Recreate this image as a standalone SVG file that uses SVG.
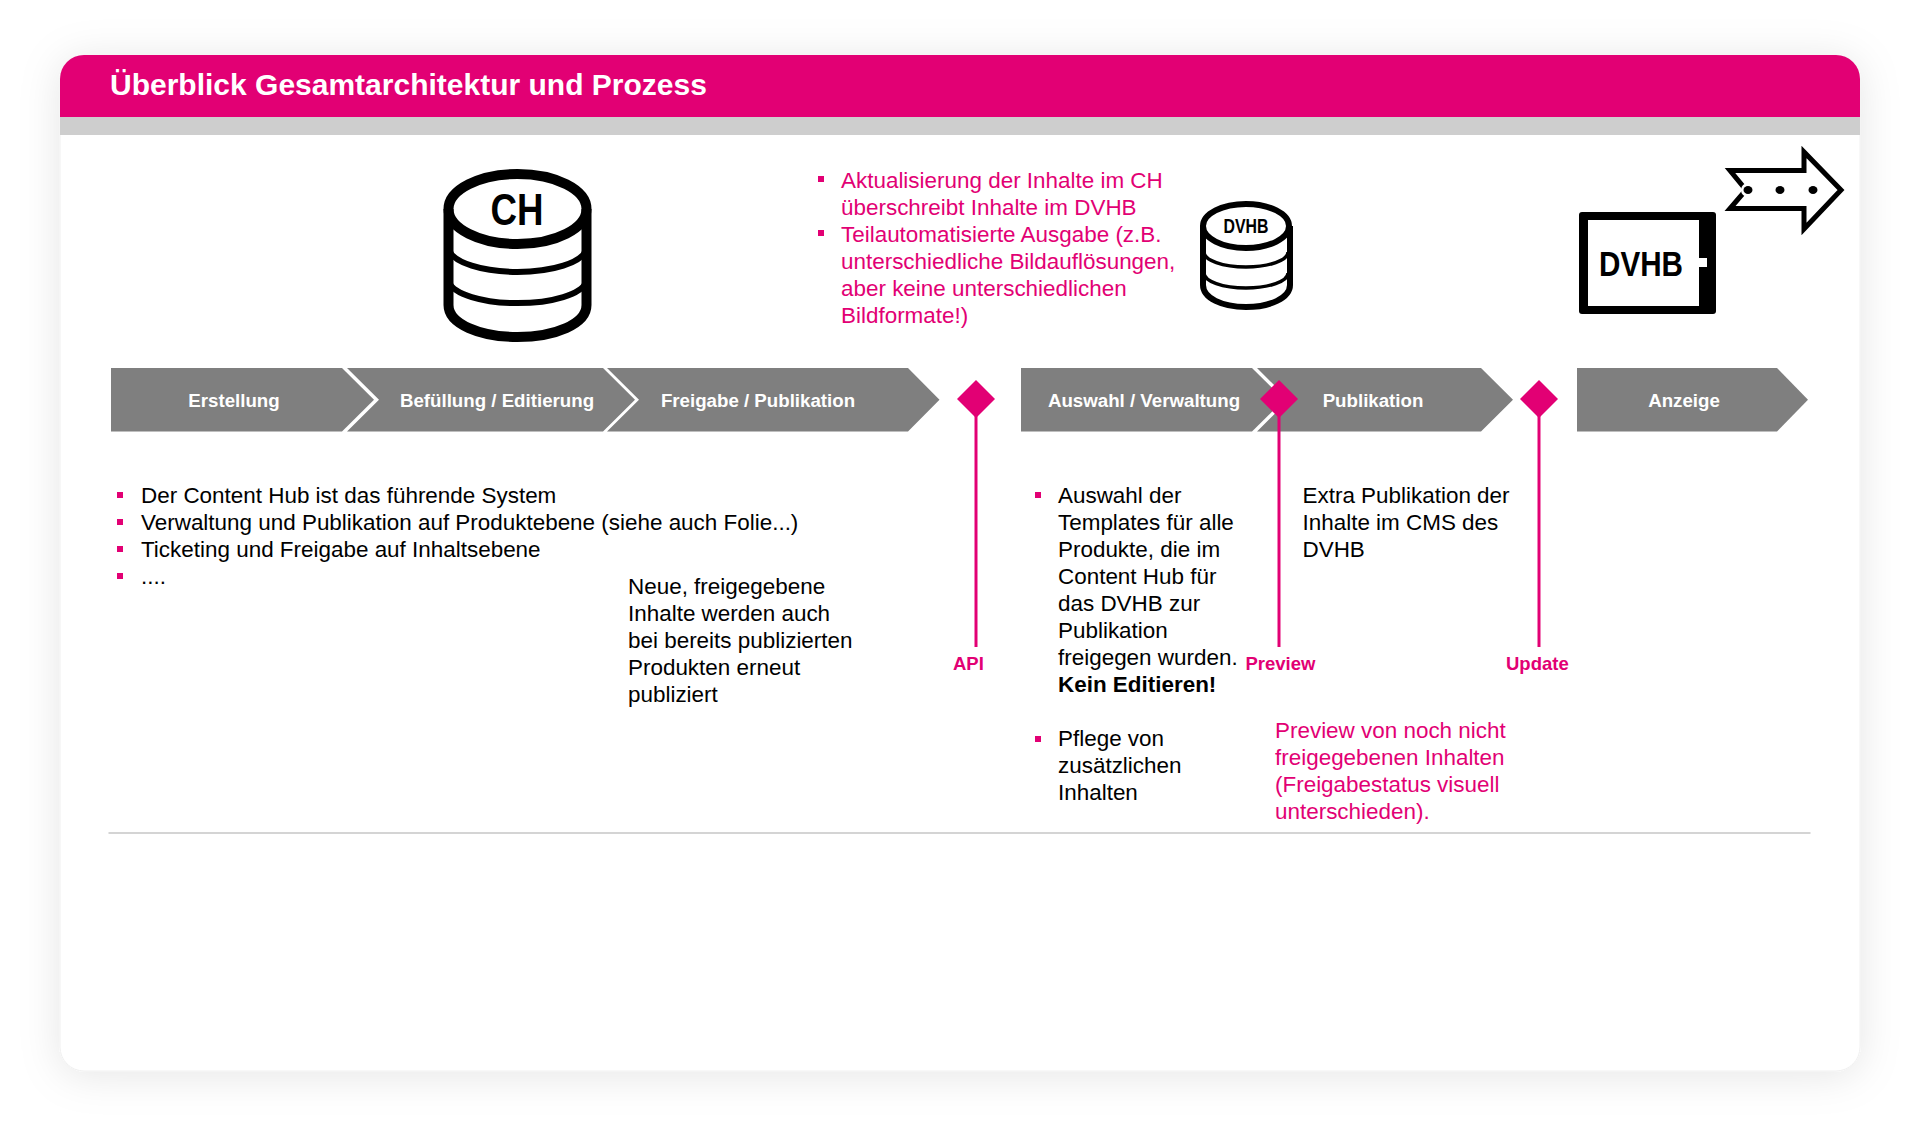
<svg xmlns="http://www.w3.org/2000/svg" width="1920" height="1135" viewBox="0 0 1920 1135">
<style>
text{font-family:"Liberation Sans",Arial,sans-serif}
.t{font-size:22.45px;fill:#000}
.p{font-size:22.45px;fill:#e20074}
.b{font-weight:bold}
.c{font-size:18.7px;font-weight:bold;fill:#fff;text-anchor:middle}
.l{font-size:18.5px;font-weight:bold;fill:#e20074}
.chev{fill:#7f7f7f}
.dia{fill:#e20074}
.conn{stroke:#e20074;stroke-width:3;fill:none}
.bul{fill:#e20074}
.ik{fill:none;stroke:#000}
.ict{font-weight:bold;fill:#000;text-anchor:middle}
</style>
<defs>
<filter id="sh" x="-10%" y="-15%" width="120%" height="130%"><feDropShadow dx="0" dy="4" stdDeviation="20" flood-color="#000" flood-opacity="0.1"/></filter>
</defs>
<rect width="1920" height="1135" fill="#fff"/>
<g id="card">
<rect x="60" y="55" width="1800" height="1016" rx="24" fill="#fff" stroke="#f0f0f0" stroke-width="1" filter="url(#sh)"/>
<path d="M60 117V79a24 24 0 0 1 24-24H1836a24 24 0 0 1 24 24V117Z" fill="#e20074"/>
<rect x="60" y="117" width="1800" height="18" fill="#cecece"/>
<text id="title" x="110" y="95" font-size="30" font-weight="bold" fill="#fff">Überblick Gesamtarchitektur und Prozess</text>
</g>
<g id="ch-db">
<path class="ik" stroke-width="6" d="M449 250A69 25 0 0 0 586 250M449 282A69 24 0 0 0 586 282"/>
<ellipse class="ik" cx="517.5" cy="209" rx="69" ry="35" stroke-width="10"/>
<path class="ik" stroke-width="10" d="M448.500 209V305C448.500 324 480 337 517.500 337S586.500 324 586.500 305V209"/>
<text class="ict" x="517" y="225" font-size="44" textLength="53" lengthAdjust="spacingAndGlyphs">CH</text>
</g>
<g id="dvhb-db">
<path class="ik" stroke-width="3.500" d="M1204 252A42 15 0 0 0 1288 252M1204 273A42 15 0 0 0 1288 273"/>
<ellipse class="ik" cx="1246" cy="226" rx="43" ry="22" stroke-width="6"/>
<path class="ik" stroke-width="6" d="M1203 226V285C1203 298 1222 307 1246 307S1290 298 1290 285V226"/>
<text class="ict" x="1246" y="233" font-size="20" textLength="45" lengthAdjust="spacingAndGlyphs">DVHB</text>
</g>
<g id="dvhb-box">
<rect x="1579" y="212" width="137" height="102" rx="3" fill="#000"/>
<rect x="1588" y="220" width="111" height="86" fill="#fff"/>
<rect x="1699" y="258" width="8" height="9" fill="#fff"/>
<text class="ict" x="1641" y="276" font-size="35" textLength="84" lengthAdjust="spacingAndGlyphs">DVHB</text>
</g>
<g id="arrow-out">
<path d="M1730 170.500H1804V152L1841 190L1804 229V208.500H1730L1746 190Z" fill="#fff" stroke="#000" stroke-width="5"/>
<circle cx="1748" cy="190" r="7" fill="#fff"/>
<ellipse cx="1748" cy="190" rx="4.500" ry="4"/>
<ellipse cx="1780" cy="190" rx="4.500" ry="4"/>
<ellipse cx="1813" cy="190" rx="4.500" ry="4"/>
</g>
<g id="notes-top">
<rect class="bul" x="818" y="176" width="6" height="6"/>
<rect class="bul" x="818" y="230" width="6" height="6"/>
<text class="p" x="841" y="188">Aktualisierung der Inhalte im CH</text>
<text class="p" x="841" y="215">überschreibt Inhalte im DVHB</text>
<text class="p" x="841" y="242">Teilautomatisierte Ausgabe (z.B.</text>
<text class="p" x="841" y="269">unterschiedliche Bildauflösungen,</text>
<text class="p" x="841" y="296">aber keine unterschiedlichen</text>
<text class="p" x="841" y="323">Bildformate!)</text>
</g>
<g id="step-erstellung"><path class="chev" d="M111 368H342L374 399.750L342 431.500H111Z"/><text class="c" x="234" y="407">Erstellung</text></g>
<g id="step-befuellung"><path class="chev" d="M347 368H603L635 399.750L603 431.500H347L379 399.750Z"/><text class="c" x="497" y="407">Befüllung / Editierung</text></g>
<g id="step-freigabe"><path class="chev" d="M607 368H908L939.500 399.750L908 431.500H607L639 399.750Z"/><text class="c" x="758" y="407">Freigabe / Publikation</text></g>
<g id="step-auswahl"><path class="chev" d="M1021 368H1252L1284 399.750L1252 431.500H1021Z"/><text class="c" x="1144" y="407">Auswahl / Verwaltung</text></g>
<g id="step-publikation"><path class="chev" d="M1257 368H1481L1513 399.750L1481 431.500H1257L1289 399.750Z"/><text class="c" x="1373" y="407">Publikation</text></g>
<g id="step-anzeige"><path class="chev" d="M1577 368H1777L1808 399.750L1777 431.500H1577Z"/><text class="c" x="1684" y="407">Anzeige</text></g>
<g id="connectors">
<line class="conn" x1="976" y1="399" x2="976" y2="647"/>
<line class="conn" x1="1279" y1="399" x2="1279" y2="647"/>
<line class="conn" x1="1539" y1="399" x2="1539" y2="647"/>
</g>
<g id="gate-api"><path class="dia" d="M976 380L995 399L976 418L957 399Z"/><text class="l" x="953" y="670">API</text></g>
<g id="gate-preview"><path class="dia" d="M1279 380L1298 399L1279 418L1260 399Z"/><text class="l" x="1245.500" y="670">Preview</text></g>
<g id="gate-update"><path class="dia" d="M1539 380L1558 399L1539 418L1520 399Z"/><text class="l" x="1506" y="670">Update</text></g>
<g id="notes-left">
<rect class="bul" x="117" y="492" width="6" height="6"/>
<rect class="bul" x="117" y="519" width="6" height="6"/>
<rect class="bul" x="117" y="546" width="6" height="6"/>
<rect class="bul" x="117" y="573" width="6" height="6"/>
<text class="t" x="141" y="503">Der Content Hub ist das führende System</text>
<text class="t" x="141" y="530">Verwaltung und Publikation auf Produktebene (siehe auch Folie...)</text>
<text class="t" x="141" y="557">Ticketing und Freigabe auf Inhaltsebene</text>
<text class="t" x="141" y="584">....</text>
</g>
<g id="notes-neue">
<text class="t" x="628" y="594">Neue, freigegebene</text>
<text class="t" x="628" y="621">Inhalte werden auch</text>
<text class="t" x="628" y="648">bei bereits publizierten</text>
<text class="t" x="628" y="675">Produkten erneut</text>
<text class="t" x="628" y="702">publiziert</text>
</g>
<g id="notes-auswahl">
<rect class="bul" x="1035" y="492" width="6" height="6"/>
<rect class="bul" x="1035" y="736" width="6" height="6"/>
<text class="t" x="1058" y="503">Auswahl der</text>
<text class="t" x="1058" y="530">Templates für alle</text>
<text class="t" x="1058" y="557">Produkte, die im</text>
<text class="t" x="1058" y="584">Content Hub für</text>
<text class="t" x="1058" y="611">das DVHB zur</text>
<text class="t" x="1058" y="638">Publikation</text>
<text class="t" x="1058" y="665">freigegen wurden.</text>
<text class="t b" x="1058" y="692">Kein Editieren!</text>
<text class="t" x="1058" y="746">Pflege von</text>
<text class="t" x="1058" y="773">zusätzlichen</text>
<text class="t" x="1058" y="800">Inhalten</text>
</g>
<g id="notes-extra">
<text class="t" x="1302.500" y="503">Extra Publikation der</text>
<text class="t" x="1302.500" y="530">Inhalte im CMS des</text>
<text class="t" x="1302.500" y="557">DVHB</text>
</g>
<g id="notes-preview">
<text class="p" x="1275" y="738">Preview von noch nicht</text>
<text class="p" x="1275" y="765">freigegebenen Inhalten</text>
<text class="p" x="1275" y="792">(Freigabestatus visuell</text>
<text class="p" x="1275" y="819">unterschieden).</text>
</g>
<line id="rule" x1="108.500" y1="833" x2="1810.500" y2="833" stroke="#d4d4d4" stroke-width="2"/>
</svg>
